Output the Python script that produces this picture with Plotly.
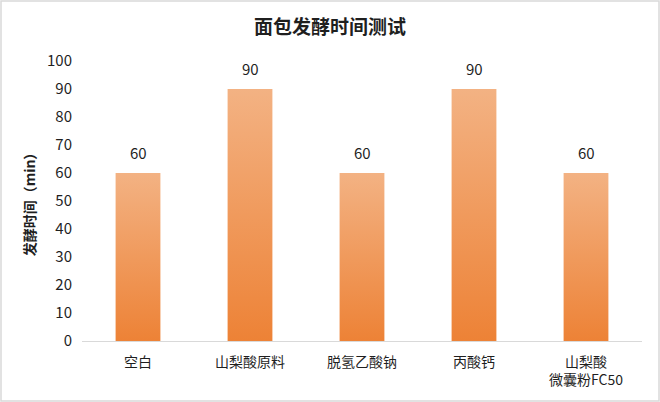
import plotly.graph_objects as go

# data
categories = ["空白", "山梨酸原料", "脱氢乙酸钠", "丙酸钙", "山梨酸<br>微囊粉FC50"]
ferment_minutes = [60, 90, 60, 90, 60]
y_ticks = [0, 10, 20, 30, 40, 50, 60, 70, 80, 90, 100]

FONT = "Noto Sans CJK SC"
TXT = '#1F1F1F'
half_w = 0.2

fig = go.Figure()

# -------------------------------------------
# bars drawn as filled shapes so they can carry a vertical gradient
# -------------------------------------------
for i, v in enumerate(ferment_minutes):
    fig.add_trace(go.Scatter(
        x=[i - half_w, i + half_w, i + half_w, i - half_w, i - half_w],
        y=[0, 0, v, v, 0],
        mode='lines',
        fill='toself',
        line=dict(width=0, color='rgba(0,0,0,0)'),
        fillgradient=dict(type='vertical',
                          colorscale=[[0, '#ED8236'], [1, '#F3B283']]),
        hoverinfo='skip',
        showlegend=False
    ))

# value labels above the bars
for i, v in enumerate(ferment_minutes):
    fig.add_annotation(
        x=i, y=v, text=str(v), showarrow=False,
        yanchor='bottom', yshift=8,
        font=dict(family=FONT, size=15, color=TXT)
    )

fig.update_layout(
    width=660,
    height=402,
    margin=dict(l=82, r=18, t=61, b=61),
    paper_bgcolor='white',
    plot_bgcolor='white',
    title=dict(text="<b>面包发酵时间测试</b>", x=0.5, xanchor='center',
               y=1 - 27 / 402, yanchor='middle',
               font=dict(family=FONT, size=19, color=TXT)),
    xaxis=dict(
        range=[-0.5, len(categories) - 0.5],
        tickvals=list(range(len(categories))),
        ticktext=categories,
        showgrid=False,
        zeroline=False,
        showline=True,
        linecolor='#D9D9D9',
        linewidth=1,
        ticks='',
        ticklabelstandoff=8,
        tickfont=dict(family=FONT, size=14, color=TXT),
    ),
    yaxis=dict(
        range=[0, 100],
        tickvals=y_ticks,
        showgrid=False,
        zeroline=False,
        showline=False,
        ticks='',
        ticklabelstandoff=9,
        tickfont=dict(family=FONT, size=15, color=TXT),
        title=dict(text="<b>发酵时间（min）</b>", standoff=8,
                   font=dict(family=FONT, size=14, color=TXT)),
    ),
    # light frame round the whole picture
    shapes=[dict(type='rect', xref='paper', yref='paper',
                 x0=-81 / 560, x1=1 + 17 / 560,
                 y0=-60 / 280, y1=1 + 60 / 280,
                 line=dict(color='#D9D9D9', width=1.5))],
)

fig.write_html("out.html", config={'displayModeBar': False},
               post_script="document.body.style.margin='0';")
